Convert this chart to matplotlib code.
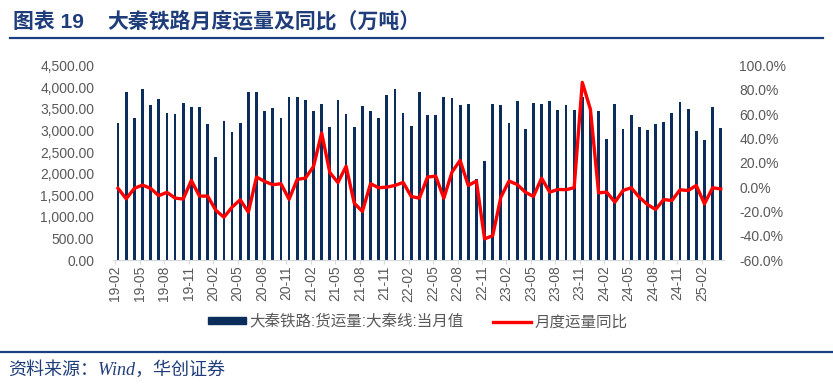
import matplotlib.pyplot as plt
from matplotlib.lines import Line2D
from matplotlib.patches import Rectangle
from matplotlib.ticker import FuncFormatter


# 大秦铁路 月度货运量(万吨) 및 同比(%), 19-02 ~ 25-04
MONTHS = [
    "19-02", "19-03", "19-04", "19-05", "19-06", "19-07", "19-08", "19-09", "19-10", "19-11", "19-12",
    "20-01", "20-02", "20-03", "20-04", "20-05", "20-06", "20-07", "20-08", "20-09", "20-10", "20-11", "20-12",
    "21-01", "21-02", "21-03", "21-04", "21-05", "21-06", "21-07", "21-08", "21-09", "21-10", "21-11", "21-12",
    "22-01", "22-02", "22-03", "22-04", "22-05", "22-06", "22-07", "22-08", "22-09", "22-10", "22-11", "22-12",
    "23-01", "23-02", "23-03", "23-04", "23-05", "23-06", "23-07", "23-08", "23-09", "23-10", "23-11", "23-12",
    "24-01", "24-02", "24-03", "24-04", "24-05", "24-06", "24-07", "24-08", "24-09", "24-10", "24-11", "24-12",
    "25-01", "25-02", "25-03", "25-04",
]

VOLUME = [
    3170, 3880, 3280, 3970, 3580, 3720, 3400, 3370, 3645, 3535, 3535,
    3150, 2380, 3225, 2960, 3165, 3880, 3895, 3455, 3510, 3280, 3780, 3780,
    3705, 3440, 3605, 3075, 3705, 3370, 3085, 3565, 3455, 3280, 3810, 3950,
    3410, 3100, 3880, 3350, 3365, 3775, 3760, 3600, 3615, 1880, 2290, 3605,
    3580, 3180, 3690, 3045, 3640, 3605, 3690, 3475, 3585, 3475, 3780, 3450,
    3440, 2795, 3605, 3035, 3350, 3070, 3010, 3140, 3195, 3410, 3650, 3495,
    2985, 2780, 3535, 3050,
]

YOY = [
    -1.0, -9.6, -1.0, 1.7, -1.0, -7.0, -4.3, -9.0, -9.8, 5.5, -7.4,
    -7.4, -19.0, -24.8, -16.5, -10.4, -20.6, 8.3, 4.7, 2.0, 2.8, -10.0, 6.4,
    7.4, 17.0, 44.6, 12.0, 3.8, 17.2, -13.2, -20.0, 2.8, -0.5, 0.0, 1.4,
    3.9, -7.7, -9.1, 8.3, 9.1, -9.1, 12.4, 22.0, 1.4, 5.0, -42.6, -40.0,
    -8.3, 5.0, 2.2, -4.1, -7.7, 7.4, -4.1, -1.9, -2.1, -0.5, 86.3, 64.0,
    -4.7, -4.1, -12.4, -2.8, -0.5, -8.3, -14.3, -18.4, -10.2, -11.0, -2.2, -2.8,
    1.4, -13.8, -0.5, -1.5,
]

LEFT_TICKS = [0, 500, 1000, 1500, 2000, 2500, 3000, 3500, 4000, 4500]
RIGHT_TICKS = [-60, -40, -20, 0, 20, 40, 60, 80, 100]

BAR_LABEL = "大秦铁路:货运量:大秦线:当月值"
LINE_LABEL = "月度运量同比"
TITLE_NO = "图表 19"
TITLE = "大秦铁路月度运量及同比（万吨）"
SOURCE = "资料来源：Wind，华创证券"

W, H = 833, 388
NAVY = "#0B2D5B"
TITLE_BLUE = "#1F3D7A"
GRAY = "#595959"


def set_font() -> None:
    plt.rcParams["font.family"] = ["Liberation Sans", "Noto Sans CJK SC", "DejaVu Sans"]
    plt.rcParams["axes.unicode_minus"] = False


def fx(px: float) -> float:
    return px / W


def fy(py: float) -> float:
    return 1 - py / H


def main() -> None:
    set_font()

    fig = plt.figure(figsize=(W / 100, H / 100), dpi=100)

    left, right, top, bottom = 113, 724, 65.7, 260
    ax = fig.add_axes([fx(left), fy(bottom), (right - left) / W, (bottom - top) / H])
    ax2 = ax.twinx()

    x = list(range(len(MONTHS)))

    ax.bar(x, VOLUME, width=0.34, color=NAVY, linewidth=0)
    ax2.plot(x, YOY, color="#FF0000", linewidth=2.4, solid_joinstyle="round")

    ax.set_xlim(-0.62, len(MONTHS) - 0.6)
    ax.set_ylim(0, 4500)
    ax2.set_ylim(-60, 100)

    tick_idx = list(range(0, len(MONTHS), 3))
    ax.set_xticks([i - 0.32 for i in tick_idx])
    ax.set_xticklabels([MONTHS[i] for i in tick_idx], rotation=90, fontsize=10, color=GRAY)

    ax.set_yticks(LEFT_TICKS)
    ax.yaxis.set_major_formatter(FuncFormatter(lambda v, _: f"{v:,.2f}"))
    ax2.set_yticks(RIGHT_TICKS)
    ax2.yaxis.set_major_formatter(FuncFormatter(lambda v, _: f"{v:.1f}%"))

    ax.tick_params(axis="x", length=3, width=0.8, color="#D9D9D9", pad=1)
    ax.tick_params(axis="y", length=0, pad=13.5, labelsize=10, labelcolor=GRAY)
    ax2.tick_params(axis="y", length=0, pad=11, labelsize=10, labelcolor=GRAY)

    for a in (ax, ax2):
        for side in ("top", "left", "right", "bottom"):
            a.spines[side].set_visible(False)
    ax.spines["bottom"].set_visible(True)
    ax.spines["bottom"].set_color("#D9D9D9")
    ax.spines["bottom"].set_linewidth(0.8)

    # legend
    handles = [
        Rectangle((0, 0), 1, 1, color=NAVY),
        Line2D([0], [0], color="#FF0000", linewidth=2.4),
    ]
    fig.legend(
        handles,
        [BAR_LABEL, LINE_LABEL],
        loc="center",
        bbox_to_anchor=(fx(418), fy(322)),
        ncol=2,
        frameon=False,
        fontsize=11.2,
        labelcolor=GRAY,
        handlelength=2.4,
        handleheight=0.32,
        handletextpad=0.25,
        columnspacing=1.9,
    )

    # title
    fig.text(fx(13), fy(22), TITLE_NO, fontsize=15, fontweight="bold",
             color=TITLE_BLUE, va="center", ha="left")
    fig.text(fx(107), fy(22), TITLE, fontsize=15, fontweight="bold",
             color=TITLE_BLUE, va="center", ha="left")
    fig.add_artist(Line2D([fx(10), fx(823)], [fy(37.5), fy(37.5)],
                          transform=fig.transFigure, color="#1B3F80", linewidth=1.6))

    # source
    fig.add_artist(Line2D([0, 1], [fy(352), fy(352)],
                          transform=fig.transFigure, color="#1B3F80", linewidth=1.6))
    fig.text(fx(8), fy(370), SOURCE, fontsize=13, style="italic", color=TITLE_BLUE,
             va="center", ha="left", family=["Liberation Serif", "Noto Sans CJK SC"])

    fig.savefig("out.png", dpi=100)
    plt.close(fig)


if __name__ == "__main__":
    main()
